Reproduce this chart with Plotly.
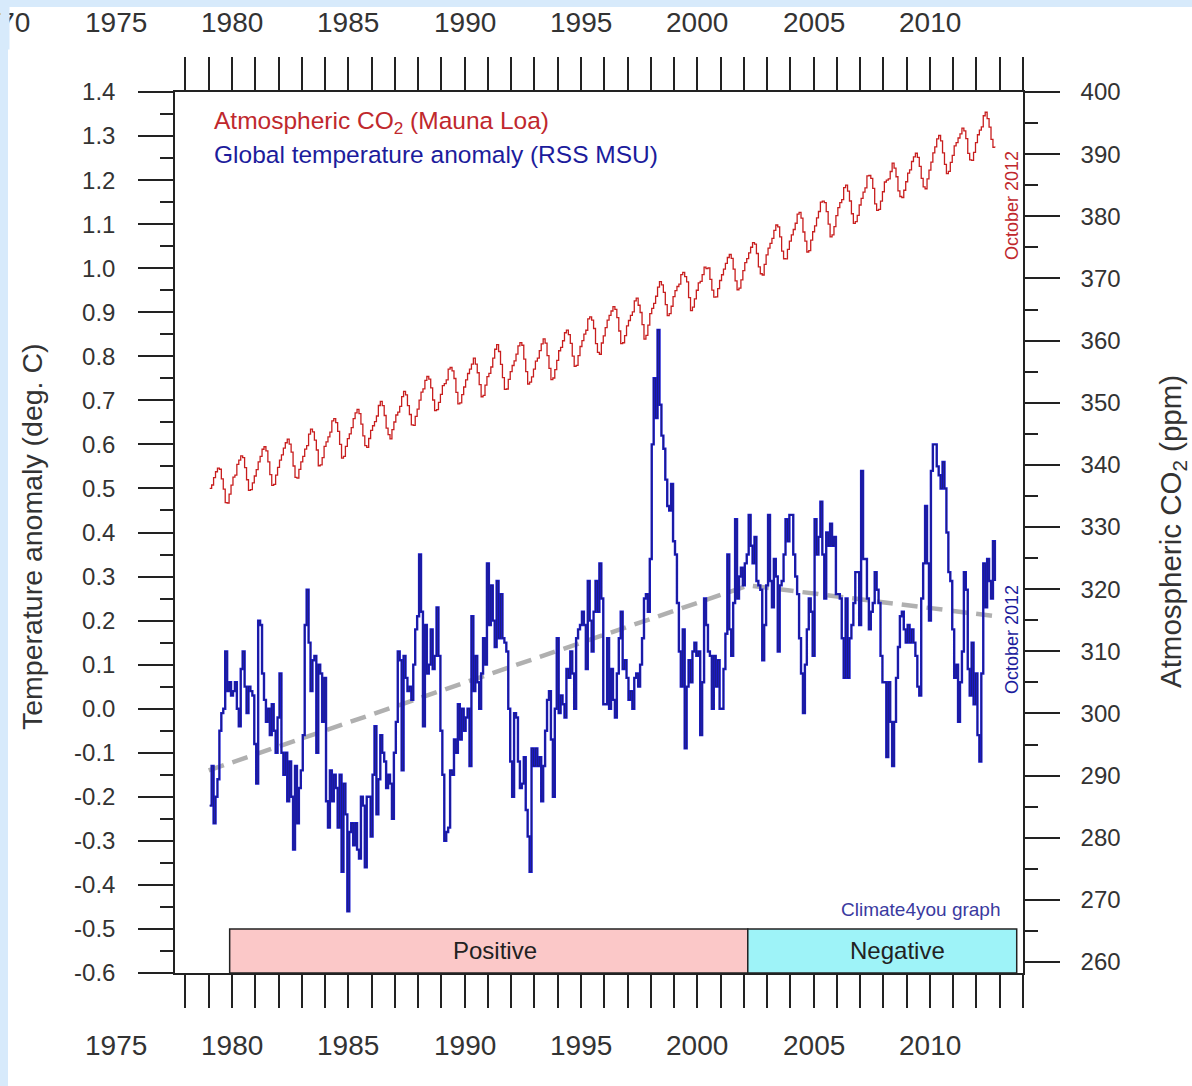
import plotly.graph_objects as go

# ---------------- data ----------------
start_year = 1979
# Mauna Loa monthly CO2 (ppm), Jan 1979 .. Oct 2012
co2_ppm = [
    336.23, 336.76, 337.96, 338.89, 339.47, 339.29, 337.73, 336.09, 333.91, 333.86, 335.29, 336.73,
    338.01, 338.36, 340.08, 340.77, 341.46, 341.17, 339.56, 337.60, 335.88, 336.01, 337.10, 338.21,
    339.24, 340.48, 341.38, 342.51, 342.91, 342.25, 340.49, 338.43, 336.69, 336.85, 338.36, 339.61,
    340.75, 341.61, 342.70, 343.56, 344.13, 343.35, 342.06, 339.82, 337.97, 337.86, 339.26, 340.49,
    341.38, 342.52, 343.10, 344.94, 345.75, 345.32, 343.99, 342.39, 339.86, 339.99, 341.16, 342.99,
    343.70, 344.51, 345.28, 347.08, 347.43, 346.79, 345.40, 343.28, 341.07, 341.35, 342.98, 344.22,
    344.97, 346.00, 347.43, 348.35, 348.93, 348.25, 346.56, 344.67, 343.09, 342.80, 344.24, 345.56,
    346.29, 346.96, 347.86, 349.55, 350.21, 349.54, 347.94, 345.91, 344.86, 344.17, 345.66, 346.90,
    348.02, 348.47, 349.42, 350.99, 351.84, 351.25, 349.52, 348.10, 346.44, 346.36, 347.81, 348.96,
    350.43, 351.72, 352.22, 353.59, 354.22, 353.79, 352.39, 350.44, 348.72, 348.88, 350.07, 351.34,
    352.76, 353.07, 353.68, 355.42, 355.67, 355.13, 353.90, 351.67, 349.80, 349.99, 351.30, 352.53,
    353.66, 354.70, 355.39, 356.20, 357.16, 356.22, 354.82, 352.91, 350.96, 351.18, 352.83, 354.21,
    354.72, 355.75, 357.16, 358.60, 359.34, 358.24, 356.17, 354.03, 352.16, 352.21, 353.75, 354.99,
    355.99, 356.72, 357.81, 359.15, 359.66, 359.25, 357.02, 355.00, 353.01, 353.31, 354.16, 355.40,
    356.70, 357.17, 358.38, 359.46, 360.28, 359.60, 357.57, 355.52, 353.70, 353.98, 355.33, 356.80,
    358.36, 358.91, 359.97, 361.26, 361.68, 360.95, 359.55, 357.49, 355.84, 356.00, 357.59, 359.05,
    359.98, 361.03, 361.66, 363.48, 363.82, 363.30, 361.94, 359.50, 358.11, 357.80, 359.61, 360.74,
    362.09, 363.29, 364.06, 364.76, 365.45, 365.01, 363.70, 361.54, 359.51, 359.65, 360.80, 362.38,
    363.23, 364.06, 364.61, 366.40, 366.84, 365.68, 364.52, 362.57, 360.24, 360.83, 362.49, 364.34,
    365.18, 365.98, 367.13, 368.61, 369.49, 368.95, 367.74, 365.79, 364.01, 364.35, 365.52, 367.08,
    368.04, 368.70, 369.08, 370.60, 370.96, 370.30, 369.45, 366.90, 364.81, 365.37, 366.72, 368.10,
    369.29, 369.54, 370.60, 371.82, 371.58, 371.70, 369.86, 368.13, 367.00, 367.03, 368.37, 369.67,
    370.59, 371.51, 372.43, 373.37, 373.85, 373.22, 371.50, 369.61, 368.18, 368.45, 369.76, 371.24,
    372.53, 373.20, 374.12, 375.02, 375.76, 375.52, 374.01, 371.85, 370.75, 370.55, 372.25, 373.79,
    374.88, 375.64, 376.45, 377.73, 378.60, 378.28, 376.70, 374.38, 373.17, 373.15, 374.66, 375.99,
    377.00, 377.87, 378.88, 380.35, 380.62, 379.69, 377.47, 376.01, 374.25, 374.46, 376.16, 377.51,
    378.46, 379.73, 380.77, 382.29, 382.45, 382.21, 380.74, 378.74, 376.70, 377.00, 378.35, 380.11,
    381.38, 382.19, 382.67, 384.61, 385.03, 384.05, 382.46, 380.41, 378.85, 379.13, 380.15, 381.82,
    382.89, 383.90, 384.58, 386.50, 386.56, 386.10, 384.50, 381.99, 380.96, 381.12, 382.45, 383.95,
    385.52, 385.82, 386.03, 387.21, 388.54, 387.76, 386.36, 384.09, 383.18, 382.99, 384.19, 385.56,
    386.94, 387.48, 388.82, 389.55, 390.14, 389.48, 388.03, 386.11, 384.74, 384.43, 386.02, 387.42,
    388.71, 390.20, 391.17, 392.46, 393.00, 392.15, 390.20, 388.35, 386.85, 387.24, 388.67, 389.79,
    391.33, 391.86, 392.60, 393.25, 394.19, 393.74, 392.51, 390.13, 389.08, 389.00, 390.28, 391.86,
    393.12, 393.86, 394.40, 396.18, 396.74, 395.71, 394.36, 392.39, 391.11, 391.05,
]

# RSS MSU global lower-troposphere temperature anomaly (deg C), Jan 1979 .. Oct 2012
rss_anomaly = [
    -0.22, -0.13, -0.26, -0.20, -0.16, -0.05, -0.01, 0.00, 0.13, 0.04, 0.06, 0.03,
    0.04, 0.06, 0.00, -0.04, 0.09, 0.13, 0.05, -0.01, 0.05, 0.04, 0.03, -0.08,
    -0.17, 0.20, 0.19, 0.08, 0.02, -0.03, 0.00, -0.06, 0.01, -0.05, -0.10, -0.02,
    0.08, -0.10, -0.15, -0.10, -0.21, -0.12, -0.20, -0.32, -0.13, -0.26, -0.18, -0.14,
    -0.06, 0.19, 0.27, 0.15, 0.04, 0.11, 0.12, -0.10, 0.10, 0.08, -0.03, 0.07,
    -0.21, -0.27, -0.14, -0.21, -0.15, -0.18, -0.27, -0.15, -0.37, -0.17, -0.24, -0.46,
    -0.28, -0.26, -0.31, -0.26, -0.32, -0.34, -0.20, -0.22, -0.36, -0.20, -0.20, -0.29,
    -0.15, -0.04, -0.24, -0.16, -0.06, -0.10, -0.12, -0.18, -0.15, -0.17, -0.25, -0.10,
    -0.03, 0.13, 0.11, -0.14, 0.12, 0.07, 0.04, 0.05, 0.02, 0.10, 0.18, 0.21,
    0.35, 0.22, -0.04, 0.19, 0.08, 0.10, 0.18, 0.09, 0.12, 0.23, 0.12, -0.05,
    -0.15, -0.30, -0.28, -0.27, -0.14, -0.15, -0.07, -0.10, 0.01, -0.07, 0.00, -0.05,
    -0.02, 0.00, -0.13, 0.21, 0.04, 0.12, 0.06, 0.00, 0.08, 0.16, 0.10, 0.33,
    0.19, 0.28, 0.20, 0.14, 0.29, 0.16, 0.26, 0.16, 0.15, 0.13, 0.00, -0.12,
    -0.20, -0.01, -0.02, -0.12, -0.18, -0.17, -0.11, -0.23, -0.29, -0.37, -0.09, -0.13,
    -0.09, -0.13, -0.11, -0.21, -0.13, -0.05, 0.02, 0.04, -0.07, -0.20, 0.00, 0.16,
    -0.01, 0.03, 0.01, -0.02, 0.09, 0.07, 0.13, 0.08, 0.00, 0.16, 0.18, 0.19,
    0.22, 0.19, 0.09, 0.29, 0.20, 0.13, 0.22, 0.29, 0.22, 0.33, 0.25, 0.01,
    0.01, 0.16, 0.00, 0.09, 0.02, -0.02, 0.08, 0.16, 0.22, 0.09, 0.11, 0.07,
    0.02, 0.04, 0.00, 0.07, 0.08, 0.05, 0.10, 0.16, 0.25, 0.26, 0.22, 0.34,
    0.60, 0.75, 0.66, 0.86, 0.69, 0.62, 0.59, 0.52, 0.46, 0.45, 0.51, 0.38,
    0.35, 0.24, 0.13, 0.05, 0.18, -0.09, 0.05, 0.11, 0.06, 0.13, 0.15, 0.12,
    0.13, -0.06, 0.06, 0.25, 0.19, 0.13, 0.12, 0.00, 0.12, 0.05, 0.11, 0.00,
    0.00, 0.09, 0.17, 0.35, 0.18, 0.12, 0.24, 0.43, 0.25, 0.30, 0.32, 0.28,
    0.33, 0.35, 0.44, 0.37, 0.33, 0.39, 0.29, 0.28, 0.27, 0.11, 0.19, 0.28,
    0.44, 0.29, 0.23, 0.34, 0.30, 0.13, 0.28, 0.29, 0.35, 0.43, 0.38, 0.44,
    0.44, 0.35, 0.30, 0.26, 0.16, 0.08, -0.01, 0.10, 0.18, 0.25, 0.22, 0.12,
    0.43, 0.35, 0.39, 0.47, 0.35, 0.25, 0.40, 0.37, 0.42, 0.37, 0.39, 0.26,
    0.26, 0.25, 0.16, 0.07, 0.25, 0.07, 0.16, 0.19, 0.24, 0.31, 0.31, 0.19,
    0.54, 0.34, 0.34, 0.25, 0.18, 0.22, 0.24, 0.31, 0.27, 0.24, 0.12, 0.06,
    0.06, -0.11, 0.06, -0.03, -0.13, -0.03, 0.07, 0.14, 0.21, 0.22, 0.18, 0.15,
    0.19, 0.15, 0.18, 0.15, 0.12, 0.05, 0.03, 0.25, 0.33, 0.46, 0.33, 0.20,
    0.54, 0.60, 0.60, 0.55, 0.53, 0.50, 0.56, 0.50, 0.40, 0.31, 0.29, 0.18,
    0.07, 0.10, -0.03, 0.06, 0.13, 0.31, 0.27, 0.09, 0.03, 0.15, 0.01, 0.08,
    -0.06, -0.12, 0.08, 0.33, 0.23, 0.34, 0.29, 0.25, 0.38, 0.29,
]

# trend segments (gray dashed)
trend_years = [1979.0, 2002.2, 2012.8]
trend_values = [-0.14, 0.28, 0.21]

# trend period bars
period_labels = ["Positive", "Negative"]
period_start = [1979.9, 2002.17]
period_end = [2002.17, 2013.73]
period_label_x = [1991.3, 2008.6]
period_colors = ["#fbc8c8", "#9ef3f8"]

top_year_labels = [1970, 1975, 1980, 1985, 1990, 1995, 2000, 2005, 2010]
bottom_year_labels = [1975, 1980, 1985, 1990, 1995, 2000, 2005, 2010]
temp_ticks = ["1.4", "1.3", "1.2", "1.1", "1.0", "0.9", "0.8", "0.7", "0.6", "0.5", "0.4",
              "0.3", "0.2", "0.1", "0.0", "-0.1", "-0.2", "-0.3", "-0.4", "-0.5", "-0.6"]
co2_ticks = ["400", "390", "380", "370", "360", "350", "340", "330", "320", "310",
             "300", "290", "280", "270", "260"]

# ---------------- layout geometry ----------------
W, H = 1192, 1086
ML, MR, MT, MB = 175, 169, 92, 113
PW, PH = W - ML - MR, H - MT - MB
X_RANGE = [1977.55, 2014.0]


def px(x):
    return (x - ML) / PW


def py(y):
    return (H - MB - y) / PH


def year_to_paper(yr):
    return (yr - X_RANGE[0]) / (X_RANGE[1] - X_RANGE[0])


FONT = "Liberation Sans, Arial, sans-serif"
DARK = "#222222"
LBLUE = "#d7eafb"

t_co2 = [start_year + (i + 0.5) / 12 for i in range(len(co2_ppm))]
t_rss = [start_year + (i + 0.5) / 12 for i in range(len(rss_anomaly))]

fig = go.Figure()

fig.add_trace(go.Scatter(x=t_co2, y=co2_ppm, yaxis="y2", mode="lines",
                         line=dict(color="#c81e1e", width=1.3, shape="hv"),
                         hoverinfo="skip", showlegend=False))
fig.add_trace(go.Scatter(x=trend_years, y=trend_values, mode="lines",
                         line=dict(color="#b0b0b0", width=4.5, dash="16px,9px"),
                         hoverinfo="skip", showlegend=False))
fig.add_trace(go.Scatter(x=t_rss, y=rss_anomaly, mode="lines",
                         line=dict(color="#1a1ad2", width=2.4, shape="hv"),
                         hoverinfo="skip", showlegend=False))
fig.add_trace(go.Scatter(x=t_rss, y=rss_anomaly, mode="lines",
                         line=dict(color="#20205a", width=0.7, shape="hv"),
                         hoverinfo="skip", showlegend=False))

shapes = []
# light blue page border strips
shapes.append(dict(type="rect", xref="paper", yref="paper", x0=px(0), x1=px(W), y0=py(7), y1=py(0),
                   fillcolor=LBLUE, line=dict(width=0), layer="below"))
shapes.append(dict(type="rect", xref="paper", yref="paper", x0=px(0), x1=px(8), y0=py(H), y1=py(0),
                   fillcolor=LBLUE, line=dict(width=0), layer="below"))
annotations = []
for lab, a, b, c, lx in zip(period_labels, period_start, period_end, period_colors, period_label_x):
    shapes.append(dict(type="rect", xref="x", yref="y", x0=a, x1=b, y0=-0.6, y1=-0.5,
                       fillcolor=c, line=dict(color=DARK, width=1.5), layer="above"))
    annotations.append(dict(x=lx, y=-0.548, xref="x", yref="y", text=lab, showarrow=False,
                            xanchor="center", yanchor="middle",
                            font=dict(family=FONT, size=24, color=DARK)))

for yr in top_year_labels:
    annotations.append(dict(x=year_to_paper(yr), y=py(22), xref="paper", yref="paper",
                            text=str(yr), showarrow=False, xanchor="center", yanchor="middle",
                            font=dict(family=FONT, size=28, color="#333333")))
for yr in bottom_year_labels:
    annotations.append(dict(x=year_to_paper(yr), y=py(1045), xref="paper", yref="paper",
                            text=str(yr), showarrow=False, xanchor="center", yanchor="middle",
                            font=dict(family=FONT, size=28, color="#333333")))

# light-blue page edge drawn over the clipped 1970 label
annotations.append(dict(x=px(0), y=py(0), xref="paper", yref="paper", xanchor="left", yanchor="top",
                        text=" ", showarrow=False, width=8, height=48, bgcolor=LBLUE,
                        borderpad=0, font=dict(size=10)))

annotations += [
    dict(x=px(212), y=py(122), xref="paper", yref="paper", xanchor="left", yanchor="middle",
         text="Atmospheric CO<sub>2</sub> (Mauna Loa)", showarrow=False,
         font=dict(family=FONT, size=24.5, color="#c0282d")),
    dict(x=px(212), y=py(154), xref="paper", yref="paper", xanchor="left", yanchor="middle",
         text="Global temperature anomaly (RSS MSU)", showarrow=False,
         font=dict(family=FONT, size=24.5, color="#1c1c9c")),
    dict(x=px(1012), y=py(206), xref="paper", yref="paper", textangle=-90,
         xanchor="center", yanchor="middle",
         text="October 2012", showarrow=False, font=dict(family=FONT, size=18, color="#c0282d")),
    dict(x=px(1012), y=py(640), xref="paper", yref="paper", textangle=-90,
         xanchor="center", yanchor="middle",
         text="October 2012", showarrow=False, font=dict(family=FONT, size=18, color="#1c1c9c")),
    dict(x=px(1002), y=py(909), xref="paper", yref="paper", xanchor="right", yanchor="middle",
         text="Climate4you graph", showarrow=False, font=dict(family=FONT, size=19, color="#3a3aa0")),
    dict(x=px(32), y=py(537), xref="paper", yref="paper", textangle=-90,
         xanchor="center", yanchor="middle",
         text="Temperature anomaly (deg. C)", showarrow=False,
         font=dict(family=FONT, size=28.5, color="#333333")),
    dict(x=px(1172), y=py(532), xref="paper", yref="paper", textangle=-90,
         xanchor="center", yanchor="middle",
         text="Atmospheric CO<sub>2</sub> (ppm)", showarrow=False,
         font=dict(family=FONT, size=29.5, color="#333333")),
]

fig.update_layout(
    width=W, height=H,
    margin=dict(l=ML, r=MR, t=MT, b=MB),
    paper_bgcolor="white", plot_bgcolor="white",
    showlegend=False,
    shapes=shapes, annotations=annotations,
    xaxis=dict(range=X_RANGE, showgrid=False, zeroline=False,
               showline=True, linecolor=DARK, linewidth=1.5, mirror="allticks",
               ticks="outside", ticklen=33, tickwidth=1.5, tickcolor=DARK,
               tick0=1980, dtick=5, showticklabels=False,
               minor=dict(ticks="outside", dtick=1, tick0=1980, ticklen=15,
                          tickwidth=1.5, tickcolor=DARK, showgrid=False)),
    yaxis=dict(range=[-0.6, 1.4], showgrid=False, zeroline=False,
               showline=True, linecolor=DARK, linewidth=1.5,
               ticks="outside", ticklen=35, tickwidth=1.5, tickcolor=DARK,
               tickvals=[float(v) for v in temp_ticks], ticktext=temp_ticks,
               ticklabelstandoff=18,
               tickfont=dict(family=FONT, size=24, color="#333333"),
               minor=dict(ticks="outside", dtick=0.05, tick0=0, ticklen=13,
                          tickwidth=1.5, tickcolor=DARK, showgrid=False)),
    yaxis2=dict(range=[258.23, 400], overlaying="y", side="right", showgrid=False,
                zeroline=False, showline=True, linecolor=DARK, linewidth=1.5,
                ticks="outside", ticklen=35, tickwidth=1.5, tickcolor=DARK,
                tickvals=[float(v) for v in co2_ticks], ticktext=co2_ticks,
                ticklabelstandoff=16,
                tickfont=dict(family=FONT, size=24, color="#333333"),
                minor=dict(ticks="outside", dtick=5, tick0=260, ticklen=13,
                           tickwidth=1.5, tickcolor=DARK, showgrid=False)),
)

fig.write_html("out.html")
